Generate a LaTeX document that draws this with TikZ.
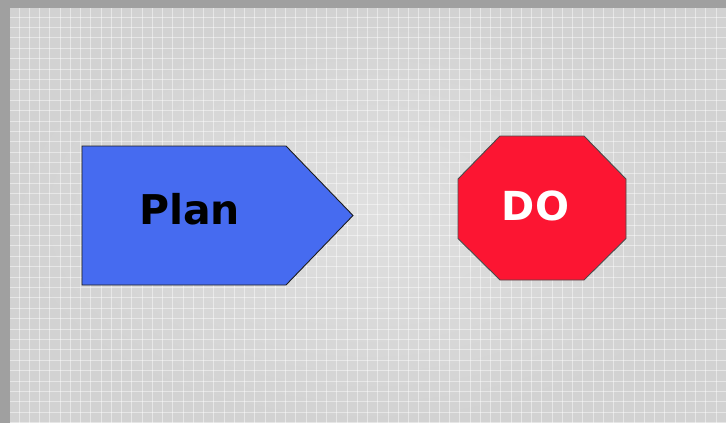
\documentclass[tikz,border=0pt]{standalone}
\usepackage{fontspec}
\setmainfont{DejaVu Sans}
\usetikzlibrary{positioning}
\definecolor{Frame}{HTML}{A0A0A0}
\definecolor{PaperIn}{HTML}{E0E0E0}
\definecolor{PaperOut}{HTML}{D2D2D2}
\definecolor{PlanBlue}{HTML}{466BF0}
\definecolor{DoRed}{HTML}{FC1532}
\definecolor{Edge}{HTML}{1E1E1E}

\begin{document}
\begin{tikzpicture}[
  x=1pt, y=-1pt,
  gridline/.style={draw=white, opacity=0.45, line width=1pt},
  plate/.style={draw=Edge, line width=0.9pt, line join=miter},
  word/.style={font=\bfseries, anchor=base, inner sep=0pt}
]
\useasboundingbox (0,0) rectangle (726,423);
\fill[Frame] (0,0) rectangle (726,423);
\shade[inner color=PaperIn, outer color=PaperOut] (10,8) rectangle (726,423);
\foreach \x in {0,...,69} \draw[gridline] (19+10.25*\x,8) -- (19+10.25*\x,423);
\foreach \y in {0,...,39} \draw[gridline] (10,17+10.4*\y) -- (726,17+10.4*\y);

\filldraw[plate, fill=PlanBlue] (82,146) -- (286,146) -- (353,215.5) -- (286,285) -- (82,285) -- cycle;
\filldraw[plate, fill=DoRed, draw=Edge!80] (500,136) -- (584,136) -- (626,179) -- (626,238.5)
  -- (584,280) -- (500,280) -- (458,238.5) -- (458,179) -- cycle;

\node[word, font=\bfseries\fontsize{41}{41}\selectfont, text=black] (plan) at (189.5,224) {Plan};
\node[word, font=\bfseries\fontsize{40}{40}\selectfont, text=white] (do) at (535.5,220) {DO};
\end{tikzpicture}
\end{document}
